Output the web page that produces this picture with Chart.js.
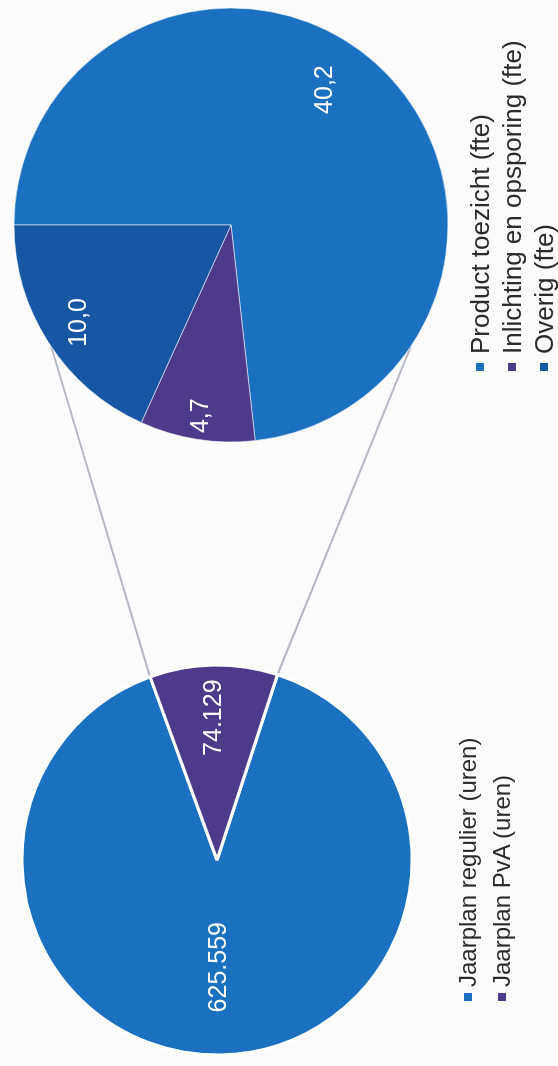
<!DOCTYPE html>
<html lang="nl">
<head>
<meta charset="UTF-8">
<title>Jaarplan uren en fte</title>
<script src="https://cdn.jsdelivr.net/npm/chart.js"></script>
<style>
  body { margin: 0; width: 558px; height: 1066px; overflow: hidden; background: #fbfbfb;
         font-family: "Liberation Sans", Arial, sans-serif; }
  /* de grafiek staat gedraaid op de pagina: we tekenen liggend en draaien het geheel */
  #kader { position: absolute; left: 0; top: 0; width: 1066px; height: 558px;
           transform-origin: 0 0; transform: translateY(1066px) rotate(-90deg); }
  #lijnen { position: absolute; left: 0; top: 0; }
  #taartGroot { position: absolute; left: 6px; top: 17px; }
  #taartKlein { position: absolute; left: 621px; top: 11px; }
  .legenda { position: absolute; color: #2a2a2a; }
  .legenda div { display: flex; align-items: center; white-space: nowrap; }
  .legenda span.blok { display: inline-block; width: 8px; height: 8px; margin-right: 6px; }
  #legendaGroot { left: 65px; top: 451px; font-size: 24px; }
  #legendaGroot div { height: 34px; }
  #legendaKlein { left: 695px; top: 464px; font-size: 26px; }
  #legendaKlein div { height: 32px; }
  #legendaKlein span.blok { margin-right: 9px; }
</style>
</head>
<body>
<div id="kader">
  <canvas id="lijnen" width="1066" height="558"></canvas>
  <canvas id="taartGroot" width="400" height="400"></canvas>
  <canvas id="taartKlein" width="440" height="440"></canvas>
  <div id="legendaGroot" class="legenda"></div>
  <div id="legendaKlein" class="legenda"></div>
</div>

<script>
// hoofdtaart: jaarplan in uren
const labelsUren = ['Jaarplan regulier (uren)', 'Jaarplan PvA (uren)'];
const urenJaarplan = [625559, 74129];
const kleurenUren = ['#1b71bf', '#4d3a8a'];

// subtaart: PvA uitgesplitst in fte
const labelsFte = ['Product toezicht (fte)', 'Inlichting en opsporing (fte)', 'Overig (fte)'];
const fteVerdeling = [40.2, 4.7, 10.0];
const kleurenFte = ['#1b71bf', '#4d3a8a', '#1656a2'];

function metPunten(getal) {
    return String(getal).replace(/\B(?=(\d{3})+(?!\d))/g, '.');
}
function metKomma(getal) {
    return getal.toFixed(1).replace('.', ',');
}

// waarden in de taartpunten zetten
const waardeLabels = {
    id: 'waardeLabels',
    afterDatasetsDraw(chart, args, opts) {
        const ctx = chart.ctx;
        const meta = chart.getDatasetMeta(0);
        const data = chart.data.datasets[0].data;
        ctx.save();
        ctx.fillStyle = '#ffffff';
        ctx.font = '25px "Liberation Sans", Arial, sans-serif';
        ctx.textAlign = 'center';
        ctx.textBaseline = 'middle';
        meta.data.forEach(function (boog, i) {
            const midden = (boog.startAngle + boog.endAngle) / 2 + (opts.draai ? opts.draai[i] : 0) * Math.PI / 180;
            const r = boog.outerRadius * opts.afstand[i];
            ctx.fillText(opts.formaat(data[i]), boog.x + Math.cos(midden) * r, boog.y + Math.sin(midden) * r);
        });
        ctx.restore();
    }
};

// PvA-punt gecentreerd rond ~89 graden (rechts, richting subtaart)
const pvaHoek = 360 * urenJaarplan[1] / (urenJaarplan[0] + urenJaarplan[1]);

const grafiekGroot = new Chart(document.getElementById('taartGroot'), {
    type: 'pie',
    data: {
        labels: labelsUren,
        datasets: [{
            data: urenJaarplan,
            backgroundColor: kleurenUren,
            borderColor: '#ffffff',
            borderWidth: 3,
            radius: 195
        }]
    },
    options: {
        responsive: false,
        animation: false,
        rotation: 89 + pvaHoek / 2,
        plugins: {
            legend: { display: false },
            tooltip: { enabled: false },
            waardeLabels: { afstand: [0.55, 0.73], formaat: metPunten }
        }
    },
    plugins: [waardeLabels]
});

const grafiekKlein = new Chart(document.getElementById('taartKlein'), {
    type: 'pie',
    data: {
        labels: labelsFte,
        datasets: [{
            data: fteVerdeling,
            backgroundColor: kleurenFte,
            borderColor: 'rgba(255,255,255,0.55)',
            borderWidth: 1,
            radius: 217
        }]
    },
    options: {
        responsive: false,
        animation: false,
        rotation: 0,
        plugins: {
            legend: { display: false },
            tooltip: { enabled: false },
            waardeLabels: { afstand: [0.76, 0.89, 0.83], draai: [-7, 0, 0], formaat: metKomma }
        }
    },
    plugins: [waardeLabels]
});

// verbindingslijnen van de PvA-punt naar de subtaart
function tekenLijnen() {
    const ctx = document.getElementById('lijnen').getContext('2d');
    const boog = grafiekGroot.getDatasetMeta(0).data[1];
    const sub = grafiekKlein.getDatasetMeta(0).data[0];
    const gx = 6, gy = 17, kx = 621, ky = 11;
    const van = [boog.startAngle, boog.endAngle].map(function (a) {
        return [gx + boog.x + Math.cos(a) * boog.outerRadius, gy + boog.y + Math.sin(a) * boog.outerRadius];
    });
    const naar = [236, 124].map(function (graden) {
        const a = graden * Math.PI / 180;
        return [kx + sub.x + Math.cos(a) * sub.outerRadius, ky + sub.y + Math.sin(a) * sub.outerRadius];
    });
    ctx.strokeStyle = '#b6b6c6';
    ctx.lineWidth = 2;
    for (let i = 0; i < 2; i++) {
        ctx.beginPath();
        ctx.moveTo(van[i][0], van[i][1]);
        ctx.lineTo(naar[i][0], naar[i][1]);
        ctx.stroke();
    }
}
tekenLijnen();

// legenda's
function maakLegenda(id, labels, kleuren) {
    const doel = document.getElementById(id);
    labels.forEach(function (tekst, i) {
        const rij = document.createElement('div');
        rij.innerHTML = '<span class="blok" style="background:' + kleuren[i] + '"></span>' + tekst;
        doel.appendChild(rij);
    });
}
maakLegenda('legendaGroot', labelsUren, kleurenUren);
maakLegenda('legendaKlein', labelsFte, kleurenFte);
</script>
</body>
</html>
